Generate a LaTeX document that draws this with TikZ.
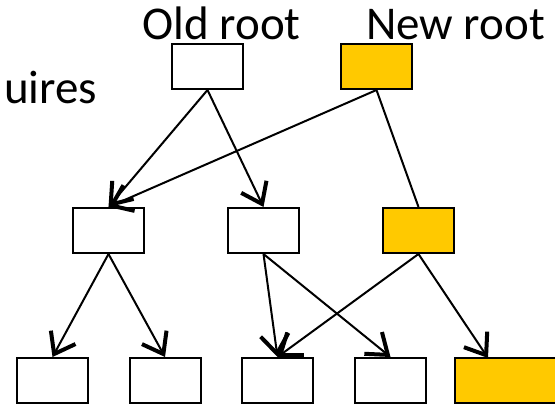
\documentclass[tikz,border=0pt]{standalone}
\usepackage{fontspec}
\setmainfont{Carlito}
\usetikzlibrary{arrows.meta}
\definecolor{rootgold}{RGB}{255,201,0}

\begin{document}
\begin{tikzpicture}[x=1pt, y=-1pt, line width=2pt,
      every node/.append style={font=\fontsize{47}{56}\selectfont}]
    \tikzstyle{block} = [draw, rectangle, minimum width=71pt, minimum height=45pt, inner sep=0pt]
    \tikzstyle{newblock} = [block, fill=rootgold]
    \tikzstyle{link} = [-{Straight Barb[length=19pt,width=28pt,line width=4pt]}]
    \useasboundingbox (0,0) rectangle (555,404);
    \node [anchor=base east] (requires) at (101.5,103) {uires};
    \node [anchor=base] (old_label) at (221.5,40) {Old root};
    \node [anchor=base] (new_label) at (455.5,40) {New root};
    \node [block] (old) at (207.5,66.5) {};
    \node [newblock] (new) at (376.5,66.5) {};
    \node [block] (a) at (108.5,230.5) {};
    \node [block] (b) at (263.5,230.5) {};
    \node [newblock] (c) at (418.5,230.5) {};
    \node [block] (a1) at (52.5,380.5) {};
    \node [block] (a2) at (165,380.5) {};
    \node [block] (b1) at (277.5,380.5) {};
    \node [block] (b2) at (390.5,380.5) {};
    \node [newblock, minimum width=112pt, anchor=west] (c2) at (454,380.5) {};
    \coordinate (c2top) at (488,358);
    \draw [link] (old.south) -- (a.north);
    \draw [link] (old.south) -- (b.north);
    \draw [link] (new.south) -- (a.north);
    \draw (new.south) -- (c.north);
    \draw [link] (a.south) -- (a1.north);
    \draw [link] (a.south) -- (a2.north);
    \draw [link] (b.south) -- (b1.north);
    \draw [link] (b.south) -- (b2.north);
    \draw [link] (c.south) -- (b1.north);
    \draw [link] (c.south) -- (c2top);
  \end{tikzpicture}
\end{document}
